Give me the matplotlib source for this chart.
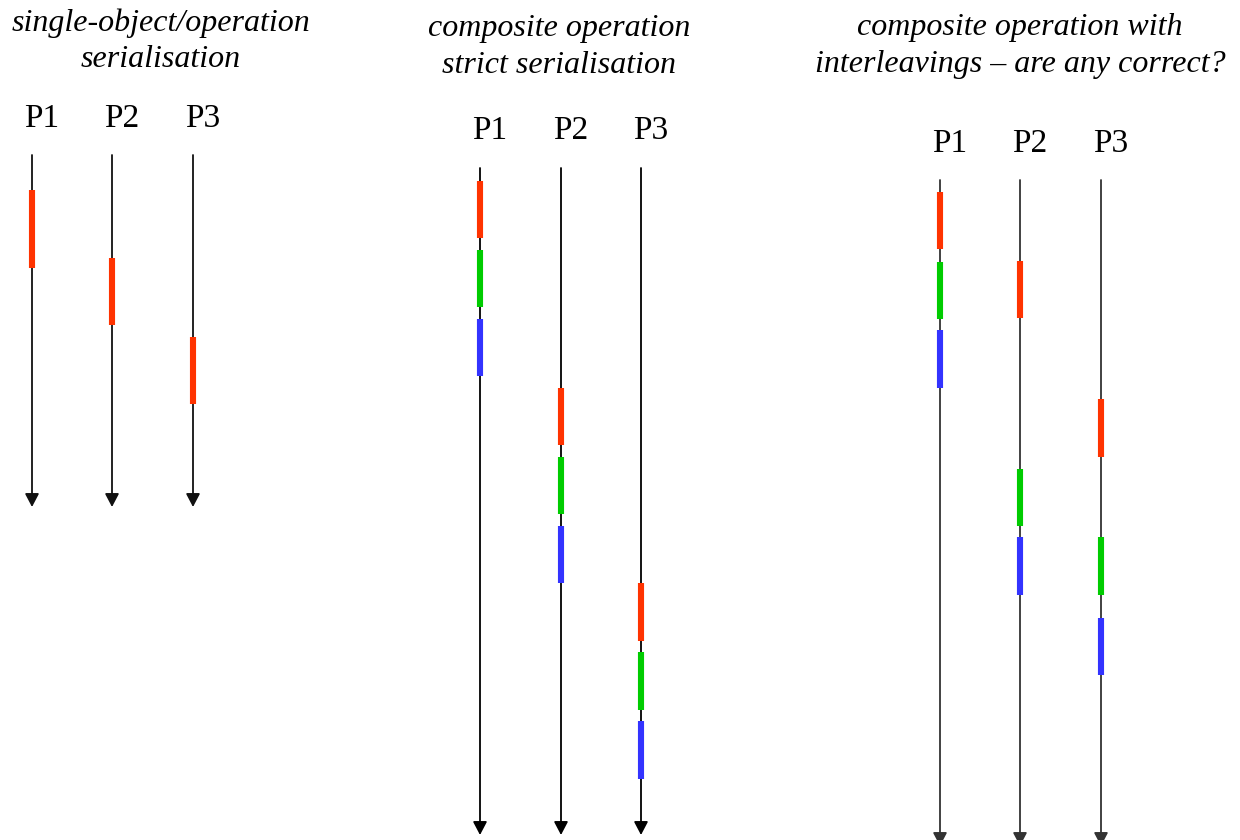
import matplotlib
matplotlib.use("Agg")
import matplotlib.pyplot as plt

# panel titles and process names
titles = [
    "single-object/operation\nserialisation",
    "composite operation\nstrict serialisation",
    "composite operation with\ninterleavings \u2013 are any correct?",
]
title_x = [161, 559, 1020]
title_y = [41, 47, 46]
procs = ["P1", "P2", "P3"]

# timeline x positions, label height, line start/end for each panel
line_x = [[32, 112, 193], [480, 561, 641], [940, 1020, 1101]]
label_y = [119, 131, 144]
line_top = [155, 168, 180]
line_end = [507, 835, 846]

# operations: (panel, process index, start, end, colour)
ops = [
    (0, 0, 190, 268, "red"),
    (0, 1, 258, 325, "red"),
    (0, 2, 337, 404, "red"),
    (1, 0, 181, 238, "red"),
    (1, 0, 250, 307, "green"),
    (1, 0, 319, 376, "blue"),
    (1, 1, 388, 445, "red"),
    (1, 1, 457, 514, "green"),
    (1, 1, 526, 583, "blue"),
    (1, 2, 583, 641, "red"),
    (1, 2, 652, 710, "green"),
    (1, 2, 721, 779, "blue"),
    (2, 0, 192, 249, "red"),
    (2, 0, 262, 319, "green"),
    (2, 0, 330, 388, "blue"),
    (2, 1, 261, 318, "red"),
    (2, 1, 469, 526, "green"),
    (2, 1, 537, 595, "blue"),
    (2, 2, 399, 457, "red"),
    (2, 2, 537, 595, "green"),
    (2, 2, 618, 675, "blue"),
]
colours = {"red": "#ff3300", "green": "#00cc00", "blue": "#3333ff"}
line_col = ["#111111", "#000000", "#333333"]

fig = plt.figure(figsize=(12.4, 8.4), dpi=100)
ax = fig.add_axes([0, 0, 1, 1])
ax.set_xlim(0, 1240)
ax.set_ylim(840, 0)
ax.axis("off")

for p in range(3):
    ax.text(title_x[p], title_y[p], titles[p], ha="center", va="center",
            family="Liberation Serif", style="italic", fontsize=23,
            linespacing=1.32)
    for i, x in enumerate(line_x[p]):
        ax.text(x + 10, label_y[p], procs[i], ha="center", va="center",
                family="Liberation Serif", fontsize=24)
        ax.annotate("", xy=(x, line_end[p]), xytext=(x, line_top[p]),
                    annotation_clip=False,
                    arrowprops=dict(arrowstyle="-|>,head_length=0.8,head_width=0.42",
                                    color=line_col[p], lw=1.3, shrinkA=0, shrinkB=0,
                                    mutation_scale=10))

for p, i, t0, t1, c in ops:
    x = line_x[p][i]
    ax.plot([x, x], [t0, t1], color=colours[c], lw=4.4, solid_capstyle="butt",
            zorder=5)

fig.savefig("out.png", dpi=100)
